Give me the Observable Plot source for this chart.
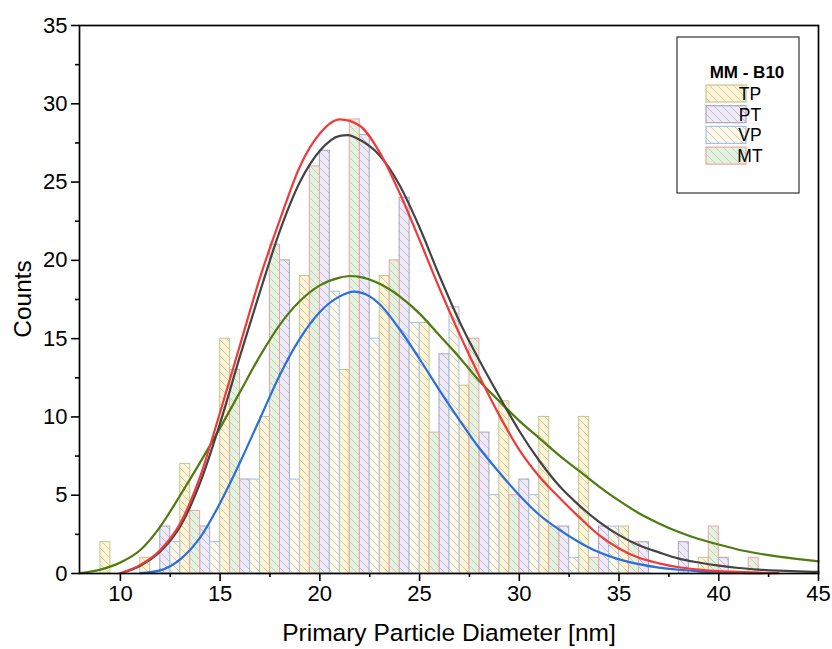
<!DOCTYPE html>
<html><head><meta charset="utf-8">
<script src="https://cdn.jsdelivr.net/npm/d3@7"></script>
<script src="https://cdn.jsdelivr.net/npm/@observablehq/plot@0.6"></script>
<style>body{margin:0;background:#fff;} svg{font-family:"Liberation Sans",Arial,sans-serif;}</style>
</head><body><div id="chart"></div>
<script>
// ---- data ----
const seriesNames = ["TP", "PT", "VP", "MT"];
const binStarts = [9, 11, 13, 15, 17, 19, 21, 23, 25, 27, 29, 31, 33, 35, 37, 39, 41];
const countsTP = [2, 1, 7, 15, 10, 19, 13, 19, 16, 12, 11, 10, 10, 3, 0, 1, 0];
const countsMT = [0, 0, 4, 13, 21, 26, 29, 20, 9, 15, 5, 3, 1, 2, 0, 3, 1];
const countsPT = [0, 3, 3, 6, 20, 27, 28, 24, 14, 9, 6, 3, 3, 2, 2, 1, 0];
const countsVP = [0, 2, 2, 6, 6, 18, 15, 16, 17, 5, 5, 1, 3, 0, 0, 0, 0];

// fitted curves
const fitTPx = [7.97, 9, 10, 11, 12, 13, 14, 15, 16, 17, 18, 19, 20, 21, 21.5, 22, 23, 24, 25, 26, 27, 28, 29, 30, 31, 32, 33, 34, 35, 36, 37, 38, 39, 40, 41, 42, 43, 44, 45];
const fitTPy = [0.02, 0.25, 0.7, 1.5, 3.0, 5.0, 7.1, 9.3, 11.6, 13.9, 15.9, 17.4, 18.4, 18.9, 19.0, 18.95, 18.5, 17.7, 16.6, 15.2, 13.8, 12.3, 11.0, 9.75, 8.65, 7.55, 6.55, 5.55, 4.65, 3.85, 3.2, 2.65, 2.2, 1.85, 1.52, 1.28, 1.08, 0.92, 0.78];
const fitPTx = [10, 11, 12, 13, 14, 15, 16, 17, 18, 19, 20, 21, 21.4, 22, 23, 24, 25, 26, 27, 28, 29, 30, 31, 32, 33, 34, 35, 36, 37, 38, 39, 40, 41, 42, 43, 44, 45];
const fitPTy = [0.02, 0.5, 1.4, 3.0, 5.8, 9.6, 13.9, 18.0, 21.9, 25.0, 27.0, 27.95, 28.0, 27.7, 26.7, 24.8, 22.1, 19.0, 16.1, 13.6, 11.3, 9.1, 7.2, 5.6, 4.35, 3.3, 2.45, 1.8, 1.35, 0.95, 0.7, 0.5, 0.35, 0.25, 0.18, 0.13, 0.1];
const fitVPx = [11, 12, 13, 14, 15, 16, 17, 18, 19, 20, 21, 21.7, 22.5, 23, 24, 25, 26, 27, 28, 29, 30, 31, 32, 33, 34, 35, 36, 37, 38, 39, 40, 41, 42.2];
const fitVPy = [0.02, 0.2, 0.9, 2.3, 4.5, 7.1, 9.9, 12.7, 15.0, 16.7, 17.7, 18.0, 17.7, 17.2, 15.6, 13.7, 11.7, 9.8, 8.0, 6.45, 5.0, 3.75, 2.8, 2.0, 1.35, 0.9, 0.6, 0.38, 0.24, 0.14, 0.08, 0.04, 0.02];
const fitMTx = [10, 11, 12, 13, 14, 15, 16, 17, 18, 19, 20, 21, 22, 23, 24, 25, 26, 27, 28, 29, 30, 31, 32, 33, 34, 35, 36, 37, 38, 39, 40, 41, 42, 43];
const fitMTy = [0.02, 0.55, 1.5, 3.2, 6.2, 10.3, 14.6, 18.9, 22.6, 26.0, 28.1, 29.0, 28.6, 26.9, 24.3, 21.3, 18.2, 15.3, 12.6, 10.1, 7.9, 6.2, 4.85, 3.6, 2.45, 1.6, 1.0, 0.65, 0.4, 0.25, 0.15, 0.1, 0.05, 0.02];

const xMajor = [10, 15, 20, 25, 30, 35, 40, 45];
const xMinor = [12.5, 17.5, 22.5, 27.5, 32.5, 37.5, 42.5];
const yMajor = [0, 5, 10, 15, 20, 25, 30, 35];
const yMinor = [2.5, 7.5, 12.5, 17.5, 22.5, 27.5, 32.5];

const legendTitle = "MM - B10";
const xLabel = "Primary Particle Diameter [nm]";
const yLabel = "Counts";

// ---- styles ----
const styles = {
  TP: {fill: "#fdf4d8", stroke: "#bfc98b", hatch: "#c8c49c", line: "#4e7c10", slot: 0},
  MT: {fill: "#e3f2df", stroke: "#f0a3a3", hatch: "#b6c9b0", line: "#ef3a3a", slot: 1},
  PT: {fill: "#eeeaf7", stroke: "#aaa4bf", hatch: "#b2adc4", line: "#444444", slot: 2},
  VP: {fill: "#fdf7e3", stroke: "#9fc4ea", hatch: "#a9bdd4", line: "#2a6fdb", slot: 3}
};
const countsBy = {TP: countsTP, PT: countsPT, VP: countsVP, MT: countsMT};
const fitsBy = {TP: [fitTPx, fitTPy], PT: [fitPTx, fitPTy], VP: [fitVPx, fitVPy], MT: [fitMTx, fitMTy]};
const barWidth = 0.5;

const barMarks = seriesNames.map(s => {
  const rows = binStarts.map((b, i) => ({
    x1: b + styles[s].slot * barWidth,
    x2: b + styles[s].slot * barWidth + barWidth,
    y: countsBy[s][i]
  })).filter(d => d.y > 0);
  return Plot.rectY(rows, {x1: "x1", x2: "x2", y: "y", fill: `url(#hatch-${s})`, stroke: styles[s].stroke, strokeWidth: 1});
});

const lineOrder = ["TP", "VP", "PT", "MT"];
const lineMarks = lineOrder.map(s => {
  const [xs, ys] = fitsBy[s];
  const pts = xs.map((x, i) => ({x, y: ys[i]}));
  return Plot.line(pts, {x: "x", y: "y", stroke: styles[s].line, strokeWidth: 2.2, curve: "monotone-x"});
});

const chart = Plot.plot({
  width: 832, height: 649,
  marginLeft: 79, marginRight: 14, marginTop: 25, marginBottom: 76,
  style: {fontFamily: "'Liberation Sans', Arial, sans-serif", fontSize: "22px", color: "#000", background: "#fff", overflow: "visible"},
  x: {domain: [7.95, 45]},
  y: {domain: [0, 35]},
  marks: [
    ...barMarks,
    ...lineMarks,
    Plot.frame({stroke: "#000", strokeWidth: 1.7}),
    Plot.axisX({ticks: xMajor, tickSize: 8, tickPadding: 4, strokeWidth: 1.6, label: null}),
    Plot.axisX({ticks: xMinor, tickSize: 4, tickFormat: () => "", strokeWidth: 1.6, label: null}),
    Plot.axisY({ticks: yMajor, tickSize: 8, tickPadding: 4, strokeWidth: 1.6, label: null}),
    Plot.axisY({ticks: yMinor, tickSize: 4, tickFormat: () => "", strokeWidth: 1.6, label: null})
  ]
});

document.getElementById("chart").appendChild(chart);

const svg = d3.select(chart);
const defs = svg.insert("defs", ":first-child");
seriesNames.forEach(s => {
  const p = defs.append("pattern").attr("id", `hatch-${s}`).attr("patternUnits", "userSpaceOnUse")
    .attr("width", 8).attr("height", 8);
  p.append("rect").attr("width", 8).attr("height", 8).attr("fill", styles[s].fill);
  p.append("path").attr("d", "M0,0L8,8M-2,6L2,10M6,-2L10,2").attr("stroke", styles[s].hatch).attr("stroke-width", 0.8);
});

// axis titles
svg.append("text").attr("x", 449).attr("y", 641).attr("text-anchor", "middle")
  .attr("font-size", 24.5).attr("fill", "#000").text(xLabel);
svg.append("text").attr("transform", "translate(31,299) rotate(-90)").attr("text-anchor", "middle")
  .attr("font-size", 24.5).attr("fill", "#000").text(yLabel);

// legend
const lg = svg.append("g");
lg.append("rect").attr("x", 677).attr("y", 37).attr("width", 122).attr("height", 156)
  .attr("fill", "#fff").attr("stroke", "#333").attr("stroke-width", 1.2);
lg.append("text").attr("x", 747).attr("y", 78).attr("text-anchor", "middle")
  .attr("font-size", 17).attr("font-weight", "bold").attr("fill", "#000").text(legendTitle);
seriesNames.forEach((s, i) => {
  const y = 85 + i * 20.7;
  lg.append("rect").attr("x", 706).attr("y", y).attr("width", 40).attr("height", 17)
    .attr("fill", `url(#hatch-${s})`).attr("stroke", styles[s].stroke).attr("stroke-width", 1.2);
  lg.append("text").attr("x", 750).attr("y", y + 15).attr("font-size", 17.5).attr("fill", "#000").text(s);
});
</script>
</body></html>
